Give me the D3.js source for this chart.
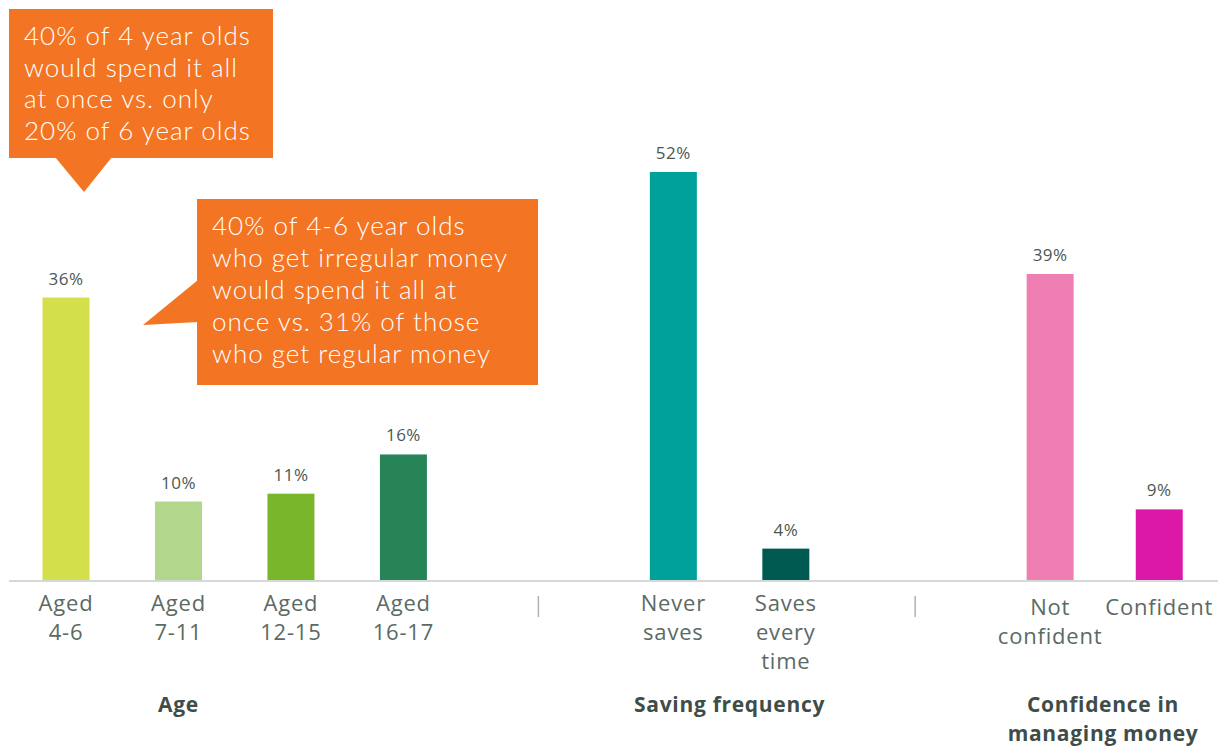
<!DOCTYPE html>
<html>
<head>
<meta charset="utf-8">
<script src="https://cdn.jsdelivr.net/npm/d3@7"></script>
<style>
  body { margin: 0; background: #fff; }
  svg { display: block; font-family: "Open Sans", Lato, sans-serif; }
</style>
</head>
<body>
<div id="chart"></div>
<script>
// data
var categories = ["Aged\n4-6", "Aged\n7-11", "Aged\n12-15", "Aged\n16-17",
                  "Never\nsaves", "Saves\nevery\ntime", "Not\nconfident", "Confident"];
var values = [36, 10, 11, 16, 52, 4, 39, 9];
var colors = ["#d4df4c", "#b1d68c", "#7ab62b", "#268457", "#00a19a", "#005a52", "#ef7fb2", "#db18a7"];
// slot index along the axis (separator slots a bit wider)
var slots = [0, 1, 2, 3, 5.4, 6.4, 8.75, 9.72];
var labelShift = [0, 0, 0, 0, 0, 0, 4, 4];
var separators = [4.2, 7.55];
var groups = ["Age", "Saving frequency", "Confidence in\nmanaging money"];
var groupSlots = [1, 5.9, 9.22];
var callouts = [
  "40% of 4 year olds\nwould spend it all\nat once vs. only\n20% of 6 year olds",
  "40% of 4-6 year olds\nwho get irregular money\nwould spend it all at\nonce vs. 31% of those\nwho get regular money"
];

var W = 1224, H = 747, baseY = 580;

var svg = d3.select('#chart')
  .append('svg')
  .attr('width', W)
  .attr('height', H);

var x = d3.scaleLinear().domain([0, 9.7]).range([66, 1157]);
var y = d3.scaleLinear().domain([0, 52]).range([baseY, 172]);
var barW = 47;

// axis line
svg.append('line')
  .attr('x1', 9).attr('x2', 1218)
  .attr('y1', baseY + 1).attr('y2', baseY + 1)
  .attr('stroke', '#d3d9d6')
  .attr('stroke-width', 2);

// bars
svg.selectAll('rect.bar')
  .data(values)
  .enter().append('rect')
  .attr('class', 'bar')
  .attr('x', function(d, i) { return x(slots[i]) - barW / 2 })
  .attr('y', function(d) { return y(d) })
  .attr('width', barW)
  .attr('height', function(d) { return baseY - y(d) })
  .attr('fill', function(d, i) { return colors[i] });

// value labels
svg.selectAll('text.val')
  .data(values)
  .enter().append('text')
  .attr('class', 'val')
  .attr('x', function(d, i) { return x(slots[i]) })
  .attr('y', function(d) { return y(d) - 13 })
  .attr('text-anchor', 'middle')
  .attr('font-size', 17)
  .attr('letter-spacing', 0.5)
  .attr('fill', '#4b5853')
  .text(function(d) { return d + '%' });

// category labels
categories.forEach(function(c, i) {
  var t = svg.append('text')
    .attr('text-anchor', 'middle')
    .attr('font-size', 22)
    .attr('letter-spacing', 0.8)
    .attr('fill', '#5b6a65');
  c.split('\n').forEach(function(line, k) {
    t.append('tspan')
      .attr('x', x(slots[i]))
      .attr('y', 611 + labelShift[i] + k * 29)
      .text(line);
  });
});

// separators
svg.selectAll('line.sep')
  .data(separators)
  .enter().append('line')
  .attr('class', 'sep')
  .attr('x1', function(d) { return x(d) })
  .attr('x2', function(d) { return x(d) })
  .attr('y1', 596).attr('y2', 617)
  .attr('stroke', '#a9b5b0')
  .attr('stroke-width', 1.5);

// group titles
groups.forEach(function(g, i) {
  var t = svg.append('text')
    .attr('text-anchor', 'middle')
    .attr('font-size', 21)
    .attr('font-weight', 'bold')
    .attr('letter-spacing', 0.7)
    .attr('fill', '#3f4d48');
  g.split('\n').forEach(function(line, k) {
    t.append('tspan')
      .attr('x', x(groupSlots[i]))
      .attr('y', 712 + k * 29)
      .text(line);
  });
});

// callouts
var orange = '#f37423';
svg.append('rect')
  .attr('x', 9).attr('y', 9)
  .attr('width', 264).attr('height', 149)
  .attr('fill', orange);
svg.append('path')
  .attr('d', 'M55,157 L112,157 L84,192 Z')
  .attr('fill', orange);

svg.append('rect')
  .attr('x', 197).attr('y', 199)
  .attr('width', 341).attr('height', 186)
  .attr('fill', orange);
svg.append('path')
  .attr('d', 'M198,280 L143,325 L198,322 Z')
  .attr('fill', orange);

var calloutPos = [[24, 45, 31.5], [212, 235, 32]];
callouts.forEach(function(c, i) {
  var t = svg.append('text')
    .attr('font-family', 'Lato, sans-serif')
    .attr('font-size', 26)
    .attr('font-weight', 300)
    .attr('letter-spacing', 1.0)
    .attr('fill', '#fff');
  c.split('\n').forEach(function(line, k) {
    t.append('tspan')
      .attr('x', calloutPos[i][0])
      .attr('y', calloutPos[i][1] + k * calloutPos[i][2])
      .text(line);
  });
});
</script>
</body>
</html>
